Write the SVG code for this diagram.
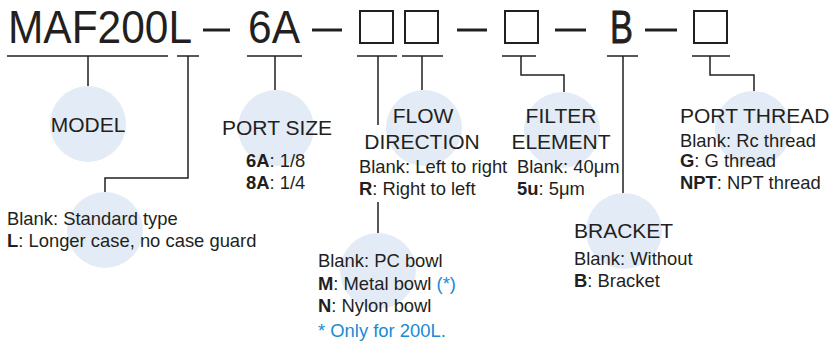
<svg xmlns="http://www.w3.org/2000/svg" width="831" height="345" viewBox="0 0 831 345">
<style>
.c{fill:#e3ebf6}
.t{font-family:"Liberation Sans",Arial,sans-serif;fill:#231f20}
.h{font-size:21px}
.s{font-size:18.4px}
.b{font-weight:bold}
.blue{fill:#1b8ad3}
.ln{fill:none;stroke:#231f20;stroke-width:1.5}
.dash{stroke:#231f20;stroke-width:3}
.box{fill:none;stroke:#231f20;stroke-width:2}
</style>
<rect width="831" height="345" fill="#fff"/>
<g id="title">
<text class="t" x="8" y="43" font-size="46" textLength="184" lengthAdjust="spacingAndGlyphs">MAF200L</text>
<text class="t" x="248" y="43" font-size="46" textLength="52" lengthAdjust="spacingAndGlyphs">6A</text>
<text class="t" x="610" y="43" font-size="46" textLength="23" lengthAdjust="spacingAndGlyphs" stroke="#231f20" stroke-width="0.8">B</text>
<line class="dash" x1="203" y1="30" x2="230" y2="30"/>
<line class="dash" x1="312" y1="30" x2="342" y2="30"/>
<line class="dash" x1="457" y1="30" x2="487" y2="30"/>
<line class="dash" x1="555" y1="30" x2="586" y2="30"/>
<line class="dash" x1="645" y1="30" x2="677" y2="30"/>
<rect class="box" x="360" y="11" width="33" height="32"/>
<rect class="box" x="405" y="11" width="33" height="32"/>
<rect class="box" x="505" y="11" width="33" height="32"/>
<rect class="box" x="694" y="11" width="33" height="32"/>
</g>
<g id="connectors">
<path class="ln" d="M7 56H168M88 56V86"/>
<path class="ln" d="M177 56H199M188 56V178H105V192"/>
<path class="ln" d="M247 56H302M275 56V90"/>
<path class="ln" d="M357 56H397M378 56V125M378 202V233"/>
<path class="ln" d="M402 56H443M422 56V90"/>
<path class="ln" d="M502 56H536M521 56V75H564V92"/>
<path class="ln" d="M607 56H638M623 56V193"/>
<path class="ln" d="M692 56H730M710 56V75H754V91"/>
</g>
<g id="model">
<circle class="c" cx="88" cy="124" r="38"/>
<text class="t h" x="88" y="132" text-anchor="middle">MODEL</text>
</g>
<g id="case">
<circle class="c" cx="105" cy="230" r="38"/>
<text class="t s" x="7" y="225">Blank: Standard type</text>
<text class="t s" x="7" y="247"><tspan class="b">L</tspan>: Longer case, no case guard</text>
</g>
<g id="port-size">
<circle class="c" cx="276" cy="128" r="38"/>
<text class="t h" x="222" y="135">PORT SIZE</text>
<text class="t s" x="246" y="167"><tspan class="b">6A</tspan>: 1/8</text>
<text class="t s" x="246" y="189"><tspan class="b">8A</tspan>: 1/4</text>
</g>
<g id="flow-direction">
<circle class="c" cx="424" cy="128" r="38"/>
<text class="t h" x="423" y="123" text-anchor="middle">FLOW</text>
<text class="t h" x="422" y="149" text-anchor="middle">DIRECTION</text>
<text class="t s" x="359" y="173">Blank: Left to right</text>
<text class="t s" x="359" y="195"><tspan class="b">R</tspan>: Right to left</text>
</g>
<g id="bowl">
<circle class="c" cx="378" cy="271" r="38"/>
<text class="t s" x="318" y="267">Blank: PC bowl</text>
<text class="t s" x="318" y="290"><tspan class="b">M</tspan>: Metal bowl <tspan class="blue">(*)</tspan></text>
<text class="t s" x="318" y="312"><tspan class="b">N</tspan>: Nylon bowl</text>
<text class="t s blue" x="318" y="337">* Only for 200L.</text>
</g>
<g id="filter-element">
<circle class="c" cx="562" cy="130" r="38"/>
<text class="t h" x="561" y="123" text-anchor="middle">FILTER</text>
<text class="t h" x="561" y="149" text-anchor="middle">ELEMENT</text>
<text class="t s" x="517" y="173">Blank: 40μm</text>
<text class="t s" x="517" y="195"><tspan class="b">5u</tspan>: 5μm</text>
</g>
<g id="bracket">
<circle class="c" cx="624" cy="231" r="38"/>
<text class="t h" x="574" y="238">BRACKET</text>
<text class="t s" x="574" y="265">Blank: Without</text>
<text class="t s" x="574" y="287"><tspan class="b">B</tspan>: Bracket</text>
</g>
<g id="port-thread">
<circle class="c" cx="753" cy="129" r="38"/>
<text class="t h" x="680" y="123">PORT THREAD</text>
<text class="t s" x="680" y="147">Blank: Rc thread</text>
<text class="t s" x="680" y="167"><tspan class="b">G</tspan>: G thread</text>
<text class="t s" x="680" y="189"><tspan class="b">NPT</tspan>: NPT thread</text>
</g>
</svg>
